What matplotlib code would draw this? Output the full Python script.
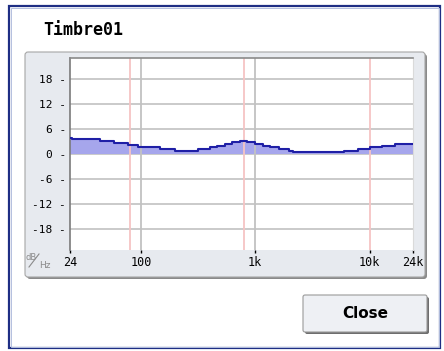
import matplotlib
matplotlib.use('Agg')
import matplotlib.pyplot as plt
from matplotlib.patches import Rectangle, FancyBboxPatch

# EQ curve (step edges in Hz, level in dB for each step)
edges = [24, 25, 44, 58, 77, 95, 147, 199, 316, 403, 464, 545, 627, 737, 849,
         997, 1172, 1349, 1618, 1980, 2150, 5990, 7950, 10100, 12900, 16700, 24000]
levels = [3.9, 3.5, 3.0, 2.6, 2.2, 1.75, 1.3, 0.8, 1.2, 1.6, 2.0, 2.4, 2.8, 3.1,
          2.8, 2.4, 2.0, 1.6, 1.2, 0.8, 0.4, 0.8, 1.2, 1.6, 2.0, 2.3]

band_freqs = [80, 800, 10000]
grid_freqs = [100, 1000]
y_ticks = [18, 12, 6, 0, -6, -12, -18]
x_ticks = [24, 100, 1000, 10000, 24000]
x_labels = ['24', '100', '1k', '10k', '24k']

W, H = 444, 351
fig = plt.figure(figsize=(W / 100, H / 100), dpi=100)
fig.patch.set_facecolor('white')

# background layer in pixel coords
bg = fig.add_axes([0, 0, 1, 1])
bg.set_xlim(0, W)
bg.set_ylim(H, 0)
bg.axis('off')

bg.add_patch(Rectangle((9, 6), 431, 342, facecolor='white', edgecolor='#1e2e84', lw=1.6))
bg.add_patch(Rectangle((10.5, 7.5), 428, 339, facecolor='none', edgecolor='#b4c0de', lw=0.7))

# panel with shadow
bg.add_patch(FancyBboxPatch((27, 54), 400, 225, boxstyle='round,pad=0,rounding_size=3',
                            facecolor='#8a8a8a', edgecolor='none'))
bg.add_patch(FancyBboxPatch((25, 52), 400, 225, boxstyle='round,pad=0,rounding_size=3',
                            facecolor='#e7eaef', edgecolor='#a6a6a6', lw=0.8))

# Close button
bg.add_patch(FancyBboxPatch((305, 297), 124, 37, boxstyle='round,pad=0,rounding_size=2',
                            facecolor='#6e6e6e', edgecolor='none'))
bg.add_patch(FancyBboxPatch((303, 295), 124, 37, boxstyle='round,pad=0,rounding_size=2',
                            facecolor='#eef0f4', edgecolor='#9a9a9a', lw=0.8))
bg.text(365, 314, 'Close', ha='center', va='center', fontsize=11, fontweight='bold',
        family='DejaVu Sans', color='black')

bg.text(43, 30, 'Timbre01', ha='left', va='center', fontsize=12, fontweight='bold',
        family='DejaVu Sans Mono', color='black')

# dB/Hz corner label
bg.text(31, 257, 'dB', ha='center', va='center', fontsize=6, color='#8a8a8a')
bg.text(45, 265, 'Hz', ha='center', va='center', fontsize=6.5, color='#8a8a8a')
bg.plot([29, 39], [267, 254], color='#8a8a8a', lw=0.8)

# plot area
ax = fig.add_axes([70 / W, 1 - 250 / H, (413 - 70) / W, (250 - 58) / H])
ax.set_facecolor('white')
ax.set_xscale('log')
ax.set_xlim(24, 24000)
ax.set_ylim(-23, 23)

for v in y_ticks:
    ax.axhline(v, color='#c6c6c6', lw=1.3, zorder=0)
for f in grid_freqs:
    ax.axvline(f, color='#c2c2c2', lw=1.3, zorder=2)
for f in band_freqs:
    ax.axvline(f, color='#f6c4c4', lw=1.3, zorder=2)

ax.fill_between(edges, levels + [levels[-1]], 0, step='post', color='#a6a6ec', lw=0, zorder=1)
ax.step(edges, levels + [levels[-1]], where='post', color='#1f1fa6', lw=1.5, zorder=3)

ax.set_yticks(y_ticks)
ax.set_yticklabels([f'{v} -' for v in y_ticks], family='DejaVu Sans Mono', fontsize=8)
ax.set_xticks(x_ticks)
ax.set_xticklabels(x_labels, family='DejaVu Sans Mono', fontsize=8.5)
ax.xaxis.set_minor_locator(matplotlib.ticker.NullLocator())
ax.tick_params(axis='y', length=0, pad=3)
ax.tick_params(axis='x', length=2, width=1, direction='out', pad=2, color='black')

ax.spines['left'].set_color('#7a7a7a')
ax.spines['left'].set_linewidth(1.2)
ax.spines['top'].set_color('#8a8a8a')
ax.spines['top'].set_linewidth(1.2)
ax.spines['right'].set_color('#dadada')
ax.spines['bottom'].set_visible(False)

fig.savefig('out.png', dpi=100)
